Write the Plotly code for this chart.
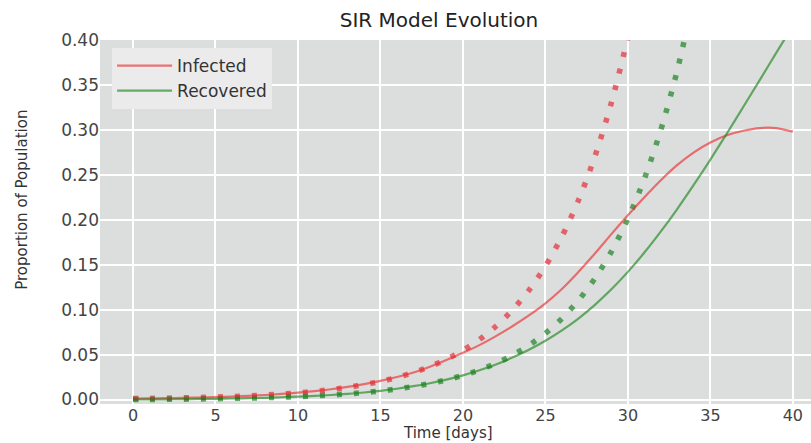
import plotly.graph_objects as go

days = list(range(0, 41))

infected = [0.0010, 0.0012, 0.0015, 0.0018, 0.0022, 0.0027, 0.0033, 0.0041, 0.0050, 0.0062,
            0.0076, 0.0093, 0.0114, 0.0140, 0.0171, 0.0208, 0.0250, 0.0300, 0.0365, 0.0440,
            0.0520, 0.0605, 0.0705, 0.0815, 0.0935, 0.1070, 0.1230, 0.1420, 0.1625, 0.1840,
            0.2050, 0.2250, 0.2440, 0.2610, 0.2750, 0.2860, 0.2940, 0.2990, 0.3020, 0.3020,
            0.2980]

recovered = [0.0000, 0.0001, 0.0002, 0.0004, 0.0006, 0.0008, 0.0011, 0.0015, 0.0019, 0.0025,
             0.0032, 0.0040, 0.0050, 0.0063, 0.0078, 0.0097, 0.0120, 0.0148, 0.0181, 0.0221,
             0.0269, 0.0325, 0.0390, 0.0466, 0.0554, 0.0654, 0.0769, 0.0901, 0.1053, 0.1226,
             0.1420, 0.1635, 0.1870, 0.2122, 0.2390, 0.2670, 0.2960, 0.3257, 0.3557, 0.3859,
             0.4159]

exp_days = list(range(0, 32))
infected_exp = [0.0010, 0.0012, 0.0015, 0.0018, 0.0022, 0.0027, 0.0033, 0.0041, 0.0050, 0.0061,
                0.0074, 0.0090, 0.0110, 0.0135, 0.0165, 0.0201, 0.0245, 0.0300, 0.0366, 0.0447,
                0.0546, 0.0667, 0.0815, 0.0995, 0.1215, 0.1484, 0.1813, 0.2214, 0.2704, 0.3303,
                0.4034, 0.4927]

rec_exp_days = list(range(0, 35))
recovered_exp = [0.0000, 0.0001, 0.0002, 0.0004, 0.0006, 0.0009, 0.0012, 0.0016, 0.0020, 0.0026,
                 0.0032, 0.0040, 0.0050, 0.0062, 0.0077, 0.0095, 0.0117, 0.0145, 0.0178, 0.0218,
                 0.0268, 0.0328, 0.0402, 0.0492, 0.0602, 0.0737, 0.0901, 0.1102, 0.1347, 0.1646,
                 0.2011, 0.2457, 0.3002, 0.3667, 0.4479]

y_ticks = [0.00, 0.05, 0.10, 0.15, 0.20, 0.25, 0.30, 0.35, 0.40]
x_ticks = [0, 5, 10, 15, 20, 25, 30, 35, 40]

RED = "rgba(235,40,40,0.62)"
GREEN = "rgba(20,130,20,0.62)"
RED_DOT = "rgba(230,40,50,0.68)"
GREEN_DOT = "rgba(20,130,30,0.68)"

fig = go.Figure()
fig.add_trace(go.Scatter(x=exp_days, y=infected_exp, mode="lines", showlegend=False,
                         line=dict(color=RED_DOT, width=5.5, dash="5px,12px",
                                   shape="spline", smoothing=0.8)))
fig.add_trace(go.Scatter(x=rec_exp_days, y=recovered_exp, mode="lines", showlegend=False,
                         line=dict(color=GREEN_DOT, width=5.5, dash="5px,12px",
                                   shape="spline", smoothing=0.8)))
fig.add_trace(go.Scatter(x=days, y=infected, mode="lines", name="Infected",
                         line=dict(color=RED, width=2.2, shape="spline", smoothing=0.8)))
fig.add_trace(go.Scatter(x=days, y=recovered, mode="lines", name="Recovered",
                         line=dict(color=GREEN, width=2.2, shape="spline", smoothing=0.8)))

FONT = "DejaVu Sans"
fig.update_layout(
    width=811, height=443,
    margin=dict(l=100, r=0, t=40, b=38.5),
    paper_bgcolor="white",
    plot_bgcolor="#DCDDDD",
    font=dict(family=FONT, color="#444444"),
    title=dict(text="SIR Model Evolution", x=439/811, xanchor="center",
               y=1 - 20/443, yanchor="middle", yref="container",
               font=dict(family=FONT, size=20, color="#222222")),
    showlegend=True,
    legend=dict(x=0.017, y=0.978, xanchor="left", yanchor="top",
                bgcolor="#EBEBEB", borderwidth=0,
                font=dict(family=FONT, size=17, color="#333333"),
                itemwidth=55),
    xaxis=dict(range=[-2, 41.1], tickvals=x_ticks, ticktext=[str(v) for v in x_ticks],
               showgrid=True, gridcolor="white", gridwidth=2.2, zeroline=False,
               showline=False, ticks="", tickfont=dict(size=16, color="#444444"),
               automargin=False, fixedrange=True),
    yaxis=dict(range=[-0.005, 0.40], tickvals=y_ticks, ticktext=[f"{v:.2f}" for v in y_ticks],
               showgrid=True, gridcolor="white", gridwidth=2.2, zeroline=False,
               showline=False, ticks="", tickfont=dict(size=17, color="#444444"),
               automargin=False, fixedrange=True),
    annotations=[
        dict(text="Time [days]", xref="paper", yref="paper",
             x=(448 - 100) / 711, y=-(434 - 404.5) / 364.5, xanchor="center", yanchor="middle",
             showarrow=False, font=dict(family=FONT, size=15, color="#333333")),
        dict(text="Proportion of Population", xref="paper", yref="paper",
             x=-(100 - 22) / 711, y=(404.5 - 200) / 364.5, xanchor="center", yanchor="middle",
             textangle=-90, showarrow=False, font=dict(family=FONT, size=15, color="#333333")),
    ],
)

fig.write_html("out.html", config={"displayModeBar": False})
